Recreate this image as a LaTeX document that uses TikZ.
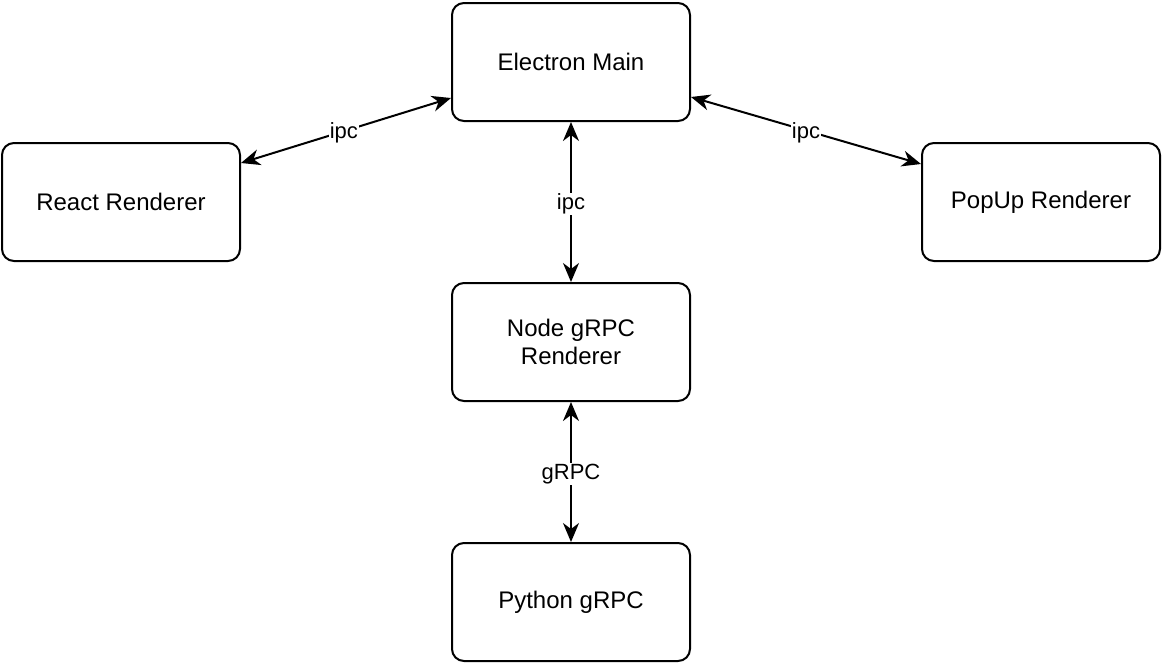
\documentclass[tikz,border=0pt]{standalone}
\usepackage{fontspec}
\setmainfont{Liberation Sans}
\usetikzlibrary{arrows.meta}
\begin{document}
\begin{tikzpicture}[x=1pt,y=-1pt,
  box/.style={draw, line width=2pt, rounded corners=12pt, minimum width=238pt, minimum height=118pt, align=center, font=\fontsize{24}{28}\selectfont, inner sep=0pt},
  conn/.style={line width=2pt, {Stealth[length=19pt,width=16pt,inset=6pt]}-{Stealth[length=19pt,width=16pt,inset=6pt]}},
  lbl/.style={fill=white, font=\fontsize{22}{24}\selectfont, inner sep=1pt}]
\useasboundingbox (0,0) rectangle (1162,662);
\node[box] (main) at (571,62) {Electron Main};
\node[box] (react) at (121,202) {React Renderer};
\node[box] (popup) at (1041,202) {PopUp Renderer};
\node[box] (node) at (571,342) {Node gRPC\\Renderer};
\node[box] (py) at (571,602) {Python gRPC};
\coordinate (rA) at (241,163);
\coordinate (mA) at (451,98);
\coordinate (mB) at (691,97);
\coordinate (pA) at (921,164);
\draw[conn] (react.east |- rA) -- node[lbl, pos=0.49, yshift=-2pt] {ipc} (main.west |- mA);
\draw[conn] (main.east |- mB) -- node[lbl, pos=0.5, yshift=-2pt] {ipc} (popup.west |- pA);
\draw[conn] (main.south) -- node[lbl, yshift=-2pt] {ipc} (node.north);
\draw[conn] (node.south) -- node[lbl, yshift=-2pt] {gRPC} (py.north);
\end{tikzpicture}
\end{document}
